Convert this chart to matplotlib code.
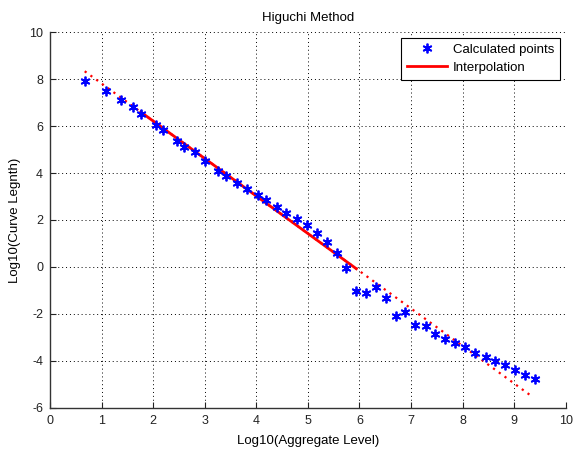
import numpy as np
import matplotlib
matplotlib.use("Agg")
import matplotlib.pyplot as plt

plt.rcParams['font.family'] = ['Liberation Sans', 'DejaVu Sans']
plt.rcParams['axes.unicode_minus'] = False

# Calculated points
log_k = [0.673, 1.086, 1.377, 1.604, 1.759, 2.056, 2.185, 2.463, 2.604, 2.818,
         3.011, 3.258, 3.407, 3.632, 3.820, 4.028, 4.188, 4.396, 4.576, 4.790,
         4.978, 5.172, 5.371, 5.559, 5.740, 5.940, 6.128, 6.316, 6.521, 6.709,
         6.890, 7.078, 7.285, 7.471, 7.654, 7.859, 8.053, 8.235, 8.449, 8.635,
         8.823, 9.011, 9.217, 9.405]
log_L = [7.94, 7.49, 7.13, 6.81, 6.52, 6.03, 5.82, 5.38, 5.12, 4.91,
         4.50, 4.09, 3.89, 3.56, 3.32, 3.08, 2.84, 2.57, 2.31, 2.06,
         1.80, 1.46, 1.06, 0.61, -0.03, -1.02, -1.12, -0.84, -1.31, -2.11,
         -1.90, -2.47, -2.51, -2.84, -3.08, -3.25, -3.43, -3.65, -3.82, -4.01,
         -4.18, -4.41, -4.60, -4.78]

# Interpolation line parameters
fit_slope = -1.598
fit_intercept = 9.415
fit_range = (4, 25)        # indices of points covered by the solid line
dotted_end = 9.36

xticks = list(range(0, 11))
yticks = list(range(-6, 11, 2))

fig = plt.figure(figsize=(5.74, 4.51), dpi=100)
ax = fig.add_axes([50/574, 1-407.7/451, (565.7-50)/574, (407.7-32.3)/451])

lk = np.array(log_k)
ll = np.array(log_L)

# dotted extended fit
xd = np.array([lk[0], dotted_end])
ax.plot(xd, fit_intercept + fit_slope*xd, linestyle=(0, (1, 2.2)), color='red',
        linewidth=1.6, zorder=2)
# solid fit
xs = np.array([lk[fit_range[0]], lk[fit_range[1]]])
ax.plot(xs, fit_intercept + fit_slope*xs, color='red', linewidth=2.0, zorder=3,
        label='Interpolation')
ax.plot(lk, ll, linestyle='none', marker=(6, 2, 0), color='blue', markersize=7,
        markeredgewidth=1.3, zorder=4, label='Calculated points')

ax.set_xlim(0, 10)
ax.set_ylim(-6, 10)
ax.set_xticks(xticks)
ax.set_yticks(yticks)
ax.grid(True, color='black', linestyle=(0, (1, 3)), linewidth=0.7)
ax.spines['top'].set_visible(False)
ax.spines['right'].set_visible(False)
for s in ['left', 'bottom']:
    ax.spines[s].set_color('#333333')
    ax.spines[s].set_linewidth(1.0)
ax.tick_params(direction='in', length=4, width=0.8, labelsize=9, colors='#222222',
               pad=5)

ax.set_title('Higuchi Method', fontsize=9.5, pad=8)
ax.set_xlabel('Log10(Aggregate Level)', fontsize=9.5, labelpad=6)
ax.set_ylabel('Log10(Curve Legnth)', fontsize=9.5, labelpad=6)

h, l = ax.get_legend_handles_labels()
leg = ax.legend([h[1], h[0]], [l[1], l[0]], loc='upper right', fontsize=9.5,
                fancybox=False, edgecolor='black', framealpha=1,
                borderaxespad=0.4, handlelength=3.0, borderpad=0.45,
                labelspacing=0.45, handletextpad=0.5)
leg.get_frame().set_linewidth(0.8)

fig.savefig('out.png', dpi=100)
